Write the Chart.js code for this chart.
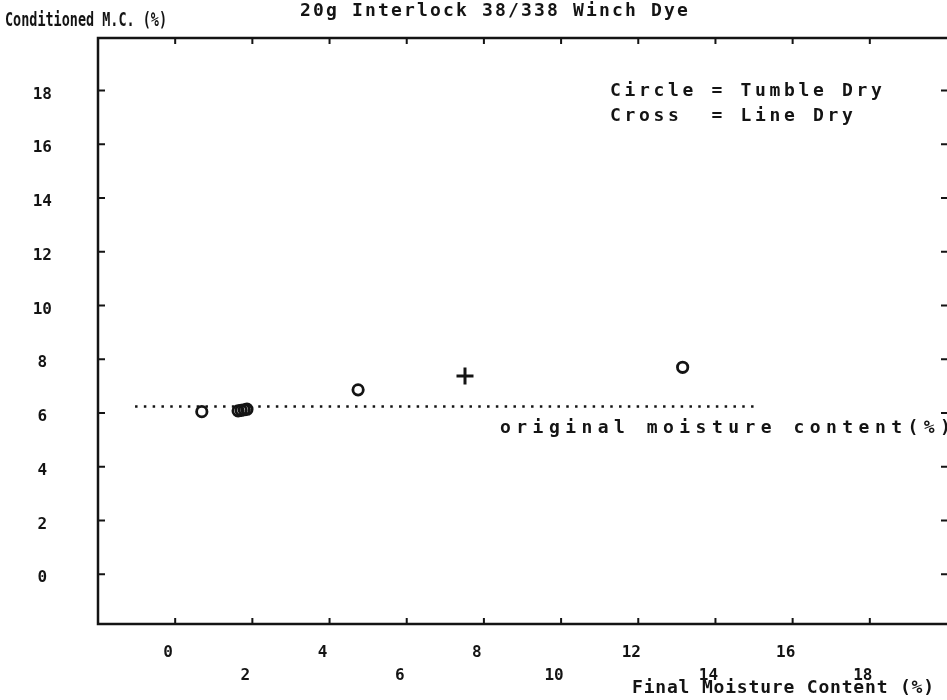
<!DOCTYPE html>
<html>
<head>
<meta charset="utf-8">
<title>20g Interlock 38/338 Winch Dye</title>
<script src="https://cdn.jsdelivr.net/npm/chart.js@4.4.1/dist/chart.umd.min.js"></script>
<style>
  html, body { margin: 0; padding: 0; background: #fff; }
</style>
</head>
<body>
<canvas id="chart" width="947" height="700"></canvas>
<script>
// tick values on both axes
const xTicks = [0, 2, 4, 6, 8, 10, 12, 14, 16, 18];
const yTicks = [0, 2, 4, 6, 8, 10, 12, 14, 16, 18];

// Circle = Tumble Dry
const tumbleX = [0.69, 1.63, 1.71, 1.79, 1.86, 4.74, 13.15];
const tumbleY = [6.05, 6.08, 6.1, 6.12, 6.14, 6.86, 7.7];

// Cross = Line Dry
const lineX = [7.51];
const lineY = [7.38];

// original moisture content (dotted line)
const origX = [-1.04, 15.1];
const origY = [6.24, 6.24];

const ink = '#141414';
const mono = 'DejaVu Sans Mono';

const toPoints = (xs, ys) => xs.map((x, i) => ({x: x, y: ys[i]}));

// draw a string with the wide pitch of the plotter lettering
function plotText(ctx, text, x, y, size, pitch) {
    ctx.save();
    ctx.font = 'bold ' + size + 'px "' + mono + '"';
    ctx.textAlign = 'left';
    ctx.textBaseline = 'middle';
    const natural = ctx.measureText('M').width;
    let sx = 1;
    if (pitch >= natural) {
        ctx.letterSpacing = (pitch - natural) + 'px';
    } else {
        sx = pitch / natural;
    }
    ctx.translate(x, y);
    ctx.scale(sx, 1);
    ctx.fillText(text, 0, 0);
    ctx.restore();
}

// frame, inward tick marks and the free texts
const plotter = {
    id: 'plotter',
    afterDraw(chart) {
        const ctx = chart.ctx;
        const a = chart.chartArea;
        const xs = chart.scales.x;
        const ys = chart.scales.y;
        ctx.save();
        ctx.strokeStyle = ink;
        ctx.fillStyle = ink;
        ctx.lineWidth = 2.5;
        ctx.beginPath();
        ctx.moveTo(a.right + 2, a.top);
        ctx.lineTo(a.left, a.top);
        ctx.lineTo(a.left, a.bottom);
        ctx.lineTo(a.right + 2, a.bottom);
        ctx.stroke();

        ctx.lineWidth = 2;
        ctx.beginPath();
        xTicks.forEach(v => {
            const px = xs.getPixelForValue(v);
            ctx.moveTo(px, a.top); ctx.lineTo(px, a.top + 6);
            ctx.moveTo(px, a.bottom); ctx.lineTo(px, a.bottom - 6);
        });
        yTicks.forEach(v => {
            const py = ys.getPixelForValue(v);
            ctx.moveTo(a.left, py); ctx.lineTo(a.left + 7, py);
            ctx.moveTo(a.right, py); ctx.lineTo(a.right - 6, py);
        });
        ctx.stroke();

        plotText(ctx, '20g Interlock 38/338 Winch Dye', 300, 11, 18, 13);
        plotText(ctx, 'Conditioned M.C. (%)', 5, 21, 19, 8.1);
        plotText(ctx, 'Circle = Tumble Dry', 610, 91, 18, 14.5);
        plotText(ctx, 'Cross  = Line Dry', 610, 116, 18, 14.5);
        plotText(ctx, 'original moisture content(%)', 500, 428, 18, 16.3);
        plotText(ctx, 'Final Moisture Content (%)', 632, 688, 18, 11.65);
        ctx.restore();
    }
};

new Chart(document.getElementById('chart'), {
    type: 'scatter',
    data: {
        datasets: [{
            label: 'Tumble Dry',
            data: toPoints(tumbleX, tumbleY),
            pointStyle: 'circle',
            pointRadius: 5.2,
            borderWidth: 2.8,
            borderColor: ink,
            backgroundColor: 'rgba(0,0,0,0)'
        }, {
            label: 'Line Dry',
            data: toPoints(lineX, lineY),
            pointStyle: 'cross',
            pointRadius: 8.5,
            borderWidth: 3,
            borderColor: ink
        }, {
            label: 'original moisture content(%)',
            data: toPoints(origX, origY),
            showLine: true,
            pointRadius: 0,
            borderColor: ink,
            borderWidth: 2.4,
            borderDash: [2.5, 6.3]
        }]
    },
    options: {
        responsive: false,
        animation: false,
        // the right frame edge of the original sits right at the picture edge
        layout: { autoPadding: false, padding: { top: 38, left: 0, right: 0, bottom: 0 } },
        plugins: {
            legend: { display: false },
            tooltip: { enabled: false }
        },
        scales: {
            x: {
                type: 'linear',
                min: -2,
                max: 20,
                afterBuildTicks: s => { s.ticks = xTicks.map(v => ({value: v})); },
                afterFit: s => {
                    s.height = 76;
                    s.paddingLeft = 0;
                    s.paddingRight = 0;
                },
                grid: { display: false, drawTicks: false },
                border: { display: false },
                ticks: {
                    color: ink,
                    padding: 17,
                    labelOffset: -7,
                    maxRotation: 0,
                    autoSkip: false,
                    font: { family: mono, size: 16, weight: 'bold', lineHeight: '23px' },
                    // alternate rows like the plotter did
                    callback: (v, i) => i % 2 === 0 ? [String(v)] : ['', String(v)]
                }
            },
            y: {
                type: 'linear',
                min: -1.85,
                max: 19.95,
                afterBuildTicks: s => { s.ticks = yTicks.map(v => ({value: v})); },
                afterFit: s => {
                    s.width = 98;
                    s.paddingTop = 0;
                    s.paddingBottom = 0;
                },
                grid: { display: false, drawTicks: false },
                border: { display: false },
                ticks: {
                    color: ink,
                    crossAlign: 'center',
                    padding: 46,
                    labelOffset: 4,
                    font: { family: mono, size: 16, weight: 'bold' }
                }
            }
        }
    },
    plugins: [plotter]
});
</script>
</body>
</html>
